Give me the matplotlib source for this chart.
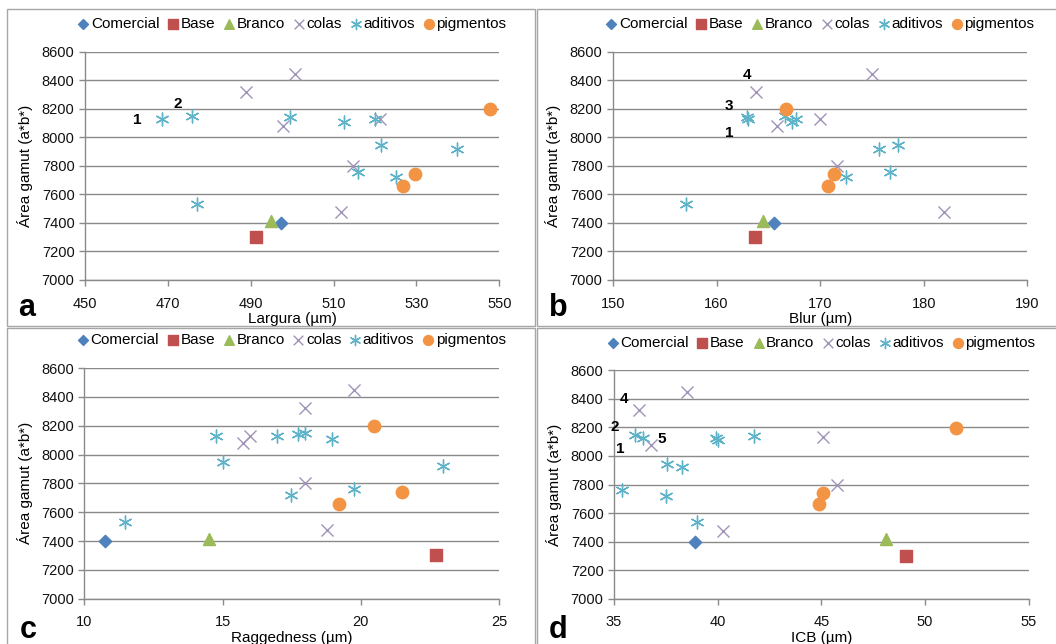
import matplotlib
matplotlib.use('Agg')
import matplotlib.pyplot as plt
from matplotlib.patches import Rectangle

plt.rcParams['font.family'] = ['Liberation Sans', 'DejaVu Sans']

# y values (Área gamut) shared by all four panels
comercial_y = [7400]
base_y = [7300]
branco_y = [7415]
colas_y = [8320, 8445, 8080, 8130, 7800, 7475]
aditivos_y = [8125, 8150, 8140, 8110, 8125, 7535, 7945, 7760, 7720, 7920]
pigmentos_y = [8195, 7740, 7660]

# x values per panel
comercial_x = {'a': [497.3], 'b': [165.5], 'c': [10.75], 'd': [38.9]}
base_x = {'a': [491.3], 'b': [163.7], 'c': [22.72], 'd': [49.1]}
branco_x = {'a': [494.8], 'b': [164.5], 'c': [14.5], 'd': [48.1]}
colas_x = {
    'a': [488.9, 500.8, 497.8, 521.2, 514.8, 511.9],
    'b': [163.8, 175.0, 165.8, 170.0, 171.6, 182.0],
    'c': [18.0, 19.76, 15.75, 15.99, 18.0, 18.77],
    'd': [36.2, 38.5, 36.8, 45.1, 45.75, 40.25],
}
aditivos_x = {
    'a': [468.5, 475.9, 499.5, 512.4, 520.0, 477.0, 521.4, 516.0, 525.0, 539.8],
    'b': [163.0, 166.6, 162.9, 167.3, 167.7, 157.0, 177.5, 176.7, 172.5, 175.7],
    'c': [14.76, 17.98, 17.72, 18.97, 16.98, 11.47, 15.0, 19.76, 17.48, 22.99],
    'd': [36.4, 36.0, 41.75, 40.0, 39.9, 39.0, 37.54, 35.4, 37.5, 38.3],
}
pigmentos_x = {
    'a': [547.7, 529.7, 526.8],
    'b': [166.7, 171.3, 170.8],
    'c': [20.48, 21.5, 19.22],
    'd': [51.5, 45.1, 44.9],
}

x_labels = {'a': 'Largura (µm)', 'b': 'Blur (µm)', 'c': 'Raggedness (µm)', 'd': 'ICB (µm)'}
x_ticks = {
    'a': [450, 470, 490, 510, 530, 550],
    'b': [150, 160, 170, 180, 190],
    'c': [10, 15, 20, 25],
    'd': [35, 40, 45, 50, 55],
}
y_ticks = [7000, 7200, 7400, 7600, 7800, 8000, 8200, 8400, 8600]

# numbered point labels: (text, x, y)
point_labels = {
    'a': [('1', 462.7, 8121), ('2', 472.4, 8231)],
    'b': [('4', 162.9, 8436), ('3', 161.2, 8219), ('1', 161.2, 8032)],
    'c': [],
    'd': [('4', 35.5, 8401), ('2', 35.03, 8203), ('5', 37.3, 8121), ('1', 35.29, 8051)],
}

W, H = 1056, 644
# axes rectangles in pixels (left, top, right, bottom)
axes_px = {
    'a': (85, 51.7, 499.3, 280),
    'b': (613, 51.7, 1027.3, 280),
    'c': (84.3, 368, 499, 598.7),
    'd': (614, 370.3, 1028.7, 598.7),
}
panel_px = {
    'a': (7, 9, 535, 326),
    'b': (537, 9, 1060, 326),
    'c': (7, 328, 535, 650),
    'd': (537, 328, 1060, 650),
}
letter_px = {'a': (27, 308), 'b': (558, 308), 'c': (28, 630), 'd': (558, 630)}

grid_col = '#8a8a8a'

fig = plt.figure(figsize=(W / 100, H / 100), dpi=100)

for key in ['a', 'b', 'c', 'd']:
    # panel frame
    l, t, r, b = panel_px[key]
    fig.add_artist(Rectangle((l / W, 1 - b / H), (r - l) / W, (b - t) / H,
                             transform=fig.transFigure, fill=False,
                             edgecolor='#a6a6a6', linewidth=1.0))

    l, t, r, b = axes_px[key]
    ax = fig.add_axes([l / W, 1 - b / H, (r - l) / W, (b - t) / H])

    ax.scatter(comercial_x[key], comercial_y, marker='D', s=40, color='#4f81bd',
               label='Comercial', zorder=3)
    ax.scatter(base_x[key], base_y, marker='s', s=70, color='#c0504d',
               label='Base', zorder=3)
    ax.scatter(branco_x[key], branco_y, marker='^', s=75, color='#9bbb59',
               label='Branco', zorder=3)
    ax.scatter(colas_x[key], colas_y, marker='x', s=75, color='#9f93b8',
               linewidths=1.0, label='colas', zorder=3)
    ax.scatter(aditivos_x[key], aditivos_y, marker=(6, 2, 0), s=85, color='#5fb3c8',
               linewidths=1.0, label='aditivos', zorder=3)
    ax.scatter(pigmentos_x[key], pigmentos_y, marker='o', s=80, color='#f39445',
               label='pigmentos', zorder=4)

    ticks = x_ticks[key]
    ax.set_xlim(ticks[0], ticks[-1])
    ax.set_xticks(ticks)
    ax.set_ylim(7000, 8600)
    ax.set_yticks(y_ticks)
    ax.yaxis.grid(True, color=grid_col, linewidth=1.0)
    ax.set_axisbelow(True)
    for s in ['top', 'right']:
        ax.spines[s].set_visible(False)
    for s in ['left', 'bottom']:
        ax.spines[s].set_color(grid_col)
        ax.spines[s].set_linewidth(1.0)
    ax.tick_params(axis='both', colors=grid_col, length=4, width=1.0,
                   labelsize=10.5, labelcolor='#111111')
    ax.tick_params(axis='x', pad=8)

    ax.set_xlabel(x_labels[key], fontsize=11, labelpad=1)
    ax.set_ylabel('Área gamut (a*b*)', fontsize=11, labelpad=6)

    for txt, px, py in point_labels[key]:
        ax.text(px, py, txt, fontsize=11, fontweight='bold', ha='center', va='center')

    ax.legend(loc='lower center', bbox_to_anchor=(0.5, 1.05), ncol=6, frameon=False,
              fontsize=11, handlelength=0.7, handletextpad=0.15, columnspacing=0.55,
              borderaxespad=0.2, scatterpoints=1, markerscale=0.8)

    lx, ly = letter_px[key]
    fig.text(lx / W, 1 - ly / H, key, fontsize=22, fontweight='bold',
             ha='center', va='center')

fig.savefig('out.png', dpi=100)
